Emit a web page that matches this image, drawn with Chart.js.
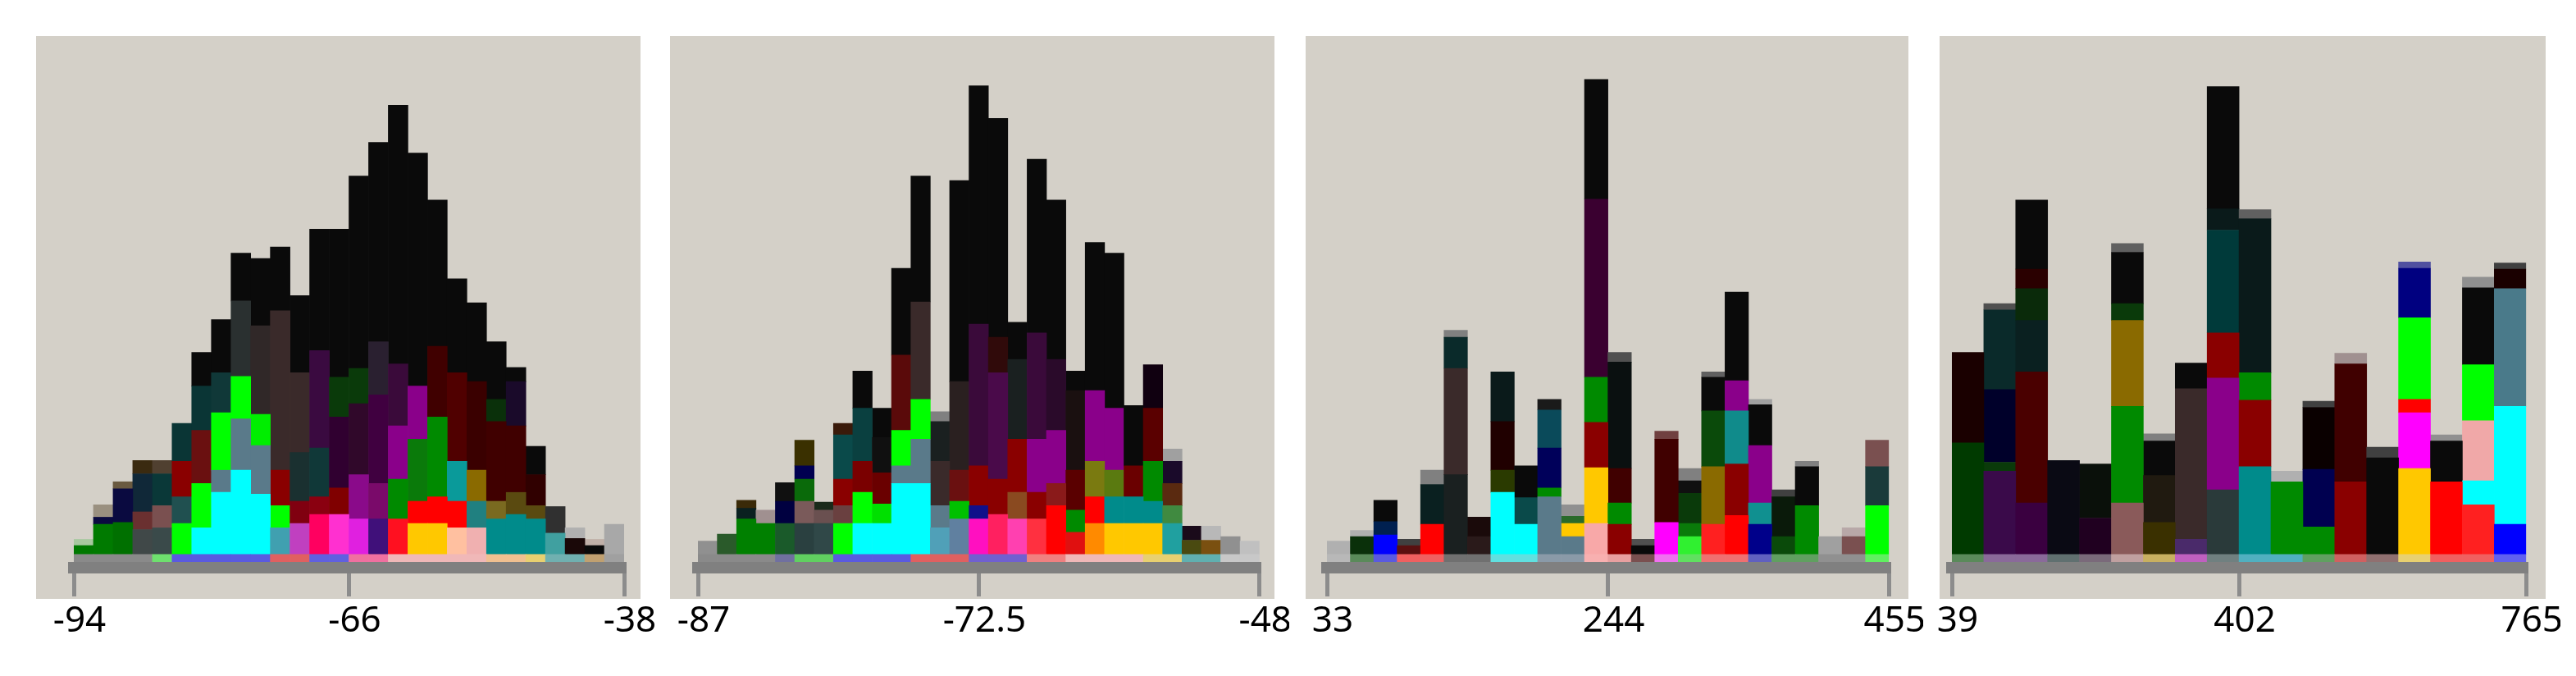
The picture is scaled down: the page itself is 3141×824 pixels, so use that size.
<!DOCTYPE html>
<html>
<head>
<meta charset="utf-8">
<script src="https://cdn.jsdelivr.net/npm/chart.js@4"></script>
<style>
  body { margin: 0; background: #fff; width: 3141px; height: 824px; position: relative; overflow: hidden; }
  .panel { position: absolute; top: 44px; height: 750px; }
  .panel .bg { position: absolute; left: 18px; top: 0; height: 686px; background: #d4d0c8; }
  .panel canvas { position: absolute; left: 0; top: 0; }
</style>
</head>
<body>

<div class="panel" id="p1" style="left:26px;width:773px"><div class="bg" style="width:737px"></div><canvas id="c1" width="773" height="750"></canvas></div>
<div class="panel" id="p2" style="left:799px;width:773px"><div class="bg" style="width:737px"></div><canvas id="c2" width="773" height="750"></canvas></div>
<div class="panel" id="p3" style="left:1574px;width:771px"><div class="bg" style="width:735px"></div><canvas id="c3" width="771" height="750"></canvas></div>
<div class="panel" id="p4" style="left:2347px;width:775px"><div class="bg" style="width:739px"></div><canvas id="c4" width="775" height="750"></canvas></div>

<script>
// tick labels under each panel (first, middle, last)
const p1Ticks = ['-94', '-66', '-38'];
const p2Ticks = ['-87', '-72.5', '-48'];
const p3Ticks = ['33', '244', '455'];
const p4Ticks = ['39', '402', '765'];

// each bin: stacked segment counts, bottom to top (first one is the thin strip on the axis)
const p1Segs = [
  [1.5, 1.0, 0.7],
  [1.5, 3.4, 0.8, 1.4],
  [1.5, 3.6, 3.8, 0.8],
  [1.5, 2.8, 2.0, 4.3, 1.5],
  [1.5, 3.0, 2.5, 3.6, 1.5],
  [1.5, 3.5, 3.0, 4.0, 4.3],
  [1.5, 3.0, 5.0, 6.0, 5.0, 3.8],
  [1.5, 7.0, 2.5, 6.5, 4.5, 6.0],
  [1.5, 9.5, 5.8, 4.8, 8.5, 5.4],
  [1.5, 6.8, 5.5, 3.5, 10, 7.6],
  [1.5, 3.0, 2.5, 4.0, 18, 7.2],
  [1.5, 3.5, 2.5, 5.5, 9, 8.7],
  [1.5, 4.5, 2.0, 5.5, 11, 13.7],
  [1.5, 4.5, 3.0, 8, 4.5, 16.7],
  [1.5, 4, 5, 8, 4, 21.7],
  [1.5, 4, 4, 10, 6, 22.5],
  [1.5, 4, 4.5, 6, 7, 29.2],
  [1.5, 3.5, 2.5, 7, 6, 26.3],
  [1.5, 3.5, 3, 9, 8, 16.5],
  [1.5, 3, 3, 4.5, 10, 10.6],
  [1.5, 3, 3, 3.5, 10, 8.9],
  [1.5, 4, 2, 9, 2.5, 6.5],
  [1.5, 4.5, 2.5, 7.5, 5, 1.6],
  [1.5, 4, 1.5, 3.5, 3.2],
  [1.5, 2.4, 3.0],
  [1.5, 1.8, 1.2],
  [1.5, 1.0, 0.7],
  [1.5, 3.4]
];
const p1Cols = [
  ['#8a8a8a', '#007800', '#a8c8a0'],
  ['#8a8a8a', '#007a00', '#0a0a40', '#9a9080'],
  ['#8a8a8a', '#007000', '#0a0a40', '#6a5a40'],
  ['#8a8a8a', '#404848', '#6a3030', '#102838', '#3a2a10'],
  ['#6ee06e', '#3a4a4a', '#7a5050', '#0a3838', '#504030'],
  ['#5a5ae0', '#00ff00', '#205050', '#8a0000', '#0a3535'],
  ['#5a5ae0', '#00ffff', '#00ff00', '#6a1010', '#0a3535', '#0a0a0a'],
  ['#5a5ae0', '#00ffff', '#5a7a8a', '#00ff00', '#103838', '#0a0a0a'],
  ['#5a5ae0', '#00ffff', '#5a7a8a', '#00ff00', '#2a3030', '#0a0a0a'],
  ['#5a5ae0', '#00ffff', '#5a7a8a', '#00ee00', '#302828', '#0a0a0a'],
  ['#e06060', '#40a0b0', '#00ff00', '#8a0000', '#3a2a2a', '#0a0a0a'],
  ['#e06060', '#c040c0', '#800010', '#1a3030', '#3a2a2a', '#0a0a0a'],
  ['#6060e0', '#ff0060', '#8a0010', '#103838', '#3a0a40', '#0a0a0a'],
  ['#6060e0', '#ff30d0', '#800000', '#300030', '#0a3a0a', '#0a0a0a'],
  ['#f070a0', '#e020e0', '#8a0a8a', '#30082a', '#0a3a0a', '#0a0a0a'],
  ['#f070a0', '#40107a', '#7a0a6a', '#400040', '#2a2030', '#0a0a0a'],
  ['#f0b8b8', '#ff1020', '#008a00', '#8a008a', '#3a0a3a', '#0a0a0a'],
  ['#f0b8b8', '#ffc800', '#ff0000', '#0a7a0a', '#8a008a', '#0a0a0a'],
  ['#f0b8b8', '#ffc800', '#ff0000', '#008a00', '#400000', '#0a0a0a'],
  ['#f0b8b8', '#ffc0a0', '#ff0000', '#0a9a9a', '#500000', '#0a0a0a'],
  ['#f0b8b8', '#f0b0b0', '#208080', '#8a6a00', '#3a0000', '#0a0a0a'],
  ['#f0c090', '#008b8b', '#7a6a20', '#400000', '#0a300a', '#0a0a0a'],
  ['#f0c090', '#008b8b', '#5a4a10', '#400000', '#1a0a2a', '#0a0a0a'],
  ['#e8d070', '#008b8b', '#5a4a10', '#300000', '#0a0a0a'],
  ['#70b0b0', '#40a0a0', '#303030'],
  ['#70b0b0', '#1a0808', '#b0b0b0'],
  ['#c0a070', '#0a0a0a', '#c0b0a8'],
  ['#a0a0a0', '#a8a8a8']
];

const p2Segs = [
  [1.5, 1.5],
  [1.5, 2.3],
  [1.5, 4.0, 1.2, 0.9],
  [1.5, 3.5, 1.5],
  [1.5, 3.5, 2.5, 2.1],
  [1.5, 3.5, 2.5, 2.5, 1.5, 2.9],
  [1.5, 3.5, 1.5, 0.9],
  [1.5, 3.5, 2.0, 3.0, 5.0, 1.3],
  [1.5, 3.5, 3.5, 3.5, 6.0, 4.2],
  [1.5, 3.5, 2.2, 3.5, 4.0, 3.3],
  [1.5, 8.0, 2.0, 4.0, 8.5, 9.8],
  [1.5, 8, 5, 4.5, 11, 14.2],
  [1.5, 3.0, 2.5, 5, 4.5, 1.1],
  [1.5, 4, 2, 3.5, 10, 22.7],
  [1.5, 4, 1.5, 4.5, 16, 26.9],
  [1.5, 4.5, 4, 12, 4, 24.7],
  [1.5, 4, 3, 6, 9, 4.2],
  [1.5, 4, 3, 6, 12, 19.6],
  [1.5, 5.5, 2.5, 6, 8, 18],
  [1.5, 2.5, 2.5, 4.5, 9, 2.2],
  [1.5, 3.5, 3, 4, 8, 16.7],
  [1.5, 3.5, 3, 3, 7, 17.5],
  [1.5, 3.5, 3, 3.5, 6.8],
  [1.5, 3.5, 2.5, 4.5, 6, 4.9],
  [1.5, 3.5, 2, 2.5, 2.5, 1.4],
  [1.5, 1.6, 1.6],
  [1.5, 1.6, 1.6],
  [1.5, 2.0],
  [1.5, 1.5]
];
const p2Cols = [
  ['#8a8a8a', '#909090'],
  ['#8a8a8a', '#2a5a2a'],
  ['#8a8a8a', '#008000', '#0a2020', '#3a2a08'],
  ['#8a8a8a', '#008000', '#a09090'],
  ['#7070a0', '#1a5a2a', '#000040', '#101010'],
  ['#60d060', '#2a4040', '#7a5a5a', '#0a6a0a', '#000050', '#3a3000'],
  ['#60d060', '#304848', '#6a5050', '#1a2a1a'],
  ['#5a5ae0', '#00ff00', '#6a4040', '#8a0000', '#0a4a4a', '#3a1a0a'],
  ['#5a5ae0', '#00ffff', '#00ff00', '#7a0000', '#0a4040', '#0a0a0a'],
  ['#5a5ae0', '#00ffff', '#00e000', '#6a0000', '#101010', '#0a0a0a'],
  ['#5a5ae0', '#00ffff', '#5a7a8a', '#00ff00', '#5a0a0a', '#0a0a0a'],
  ['#e06060', '#00ffff', '#5a7a8a', '#00ff00', '#3a2a2a', '#0a0a0a'],
  ['#e06060', '#50a0b8', '#5a7a8a', '#3a2a2a', '#1a2020', '#808080'],
  ['#e06060', '#6080a0', '#00c000', '#6a1010', '#2a2020', '#0a0a0a'],
  ['#7060d0', '#ff10c0', '#10108a', '#8a0000', '#3a0a3a', '#0a0a0a'],
  ['#7060d0', '#ff2060', '#8a0000', '#4a0a4a', '#300a0a', '#0a0a0a'],
  ['#7060d0', '#ff40b0', '#8a4a20', '#8a0000', '#1a2020', '#0a0a0a'],
  ['#f08080', '#ff3040', '#8a0000', '#8a008a', '#3a0a3a', '#0a0a0a'],
  ['#f08080', '#ff0000', '#8a1a1a', '#8a008a', '#2a0a2a', '#0a0a0a'],
  ['#f0b8b8', '#e01010', '#008a00', '#5a0000', '#1a1010', '#0a0a0a'],
  ['#f0b8b8', '#ff8a00', '#ff0000', '#7a7a10', '#8a008a', '#0a0a0a'],
  ['#f0b8b8', '#ffc800', '#008b8b', '#5a7a10', '#8a008a', '#0a0a0a'],
  ['#f0b8b8', '#ffc800', '#008b8b', '#6a0000', '#0a0a0a'],
  ['#e8d070', '#ffc800', '#008b8b', '#008a00', '#5a0000', '#100010'],
  ['#e8d070', '#20a0a0', '#408a40', '#5a2a10', '#1a0a2a', '#a0a0a0'],
  ['#60b0b0', '#4a4a10', '#1a0a1a'],
  ['#60b0b0', '#7a5010', '#b8b8b8'],
  ['#c8c8c8', '#909090'],
  ['#c8c8c8', '#c0c0c0']
];

const p3Segs = [
  [1.5, 1.5],
  [1.5, 2.0, 0.7],
  [1.5, 2.2, 1.5, 2.4],
  [1.5, 1.0, 0.7],
  [1.5, 3.4, 4.5, 1.6],
  [1.5, 9.0, 12.0, 3.5, 0.8],
  [1.5, 2.0, 2.2],
  [1.5, 7.0, 2.5, 5.5, 5.6],
  [1.5, 3.4, 3.0, 3.6],
  [1.5, 6.5, 1.0, 4.5, 4.3, 1.2],
  [1.5, 2.0, 1.5, 0.8, 1.3],
  [1.5, 3.5, 6.3, 5.1, 5.1, 20.1, 13.5],
  [1.5, 3.4, 2.4, 3.9, 12.0, 1.1],
  [1.5, 1.0, 0.7],
  [1.5, 3.6, 9.4, 0.9],
  [1.5, 2.0, 1.5, 3.4, 1.4, 1.4],
  [1.5, 3.4, 6.5, 6.3, 3.8, 0.6],
  [1.5, 4.4, 5.8, 6.0, 3.4, 10.0],
  [1.5, 3.4, 2.4, 6.5, 4.6, 0.6],
  [1.5, 2.0, 4.5, 0.8],
  [1.5, 5.5, 4.4, 0.6],
  [1.5, 2.0],
  [1.5, 2.0, 1.0],
  [1.5, 5.5, 4.4, 3.0]
];
const p3Cols = [
  ['#b8b8b8', '#b0b0b0'],
  ['#5a8a5a', '#0a300a', '#b0b0b0'],
  ['#5a5ae0', '#0000ff', '#002050', '#0a0a0a'],
  ['#f06060', '#5a1010', '#404040'],
  ['#f06060', '#ff0000', '#0a2020', '#808080'],
  ['#707070', '#1a2020', '#3a2a2a', '#0a2a2a', '#808080'],
  ['#707070', '#2a1a1a', '#1a0a0a'],
  ['#60e0e0', '#00ffff', '#2a3a00', '#200000', '#0a1a1a'],
  ['#60e0e0', '#00ffff', '#0a4a4a', '#0a0a0a'],
  ['#8a9aa8', '#5a7a8a', '#008a00', '#00005a', '#0a4a5a', '#1a1a1a'],
  ['#8a9aa8', '#5a7a8a', '#ffc800', '#2a6a2a', '#909090'],
  ['#f8b0b0', '#f8a8a8', '#ffc800', '#8a0000', '#008a00', '#3a0030', '#0a0a0a'],
  ['#e8a0a0', '#8a0000', '#008a00', '#400000', '#0a1010', '#505050'],
  ['#7a5050', '#0a0a0a', '#505050'],
  ['#f070f0', '#ff00ff', '#400000', '#704040'],
  ['#60e060', '#30f030', '#0a7a0a', '#0a3a0a', '#101010', '#808080'],
  ['#f07070', '#ff2020', '#8a6a00', '#0a4a0a', '#0a0a0a', '#606060'],
  ['#f07070', '#ff0000', '#8a0000', '#108b8b', '#8a008a', '#0a0a0a'],
  ['#6060c0', '#00008a', '#109090', '#8a008a', '#0a0a0a', '#a0a0a0'],
  ['#60a060', '#0a4a0a', '#0a1a0a', '#404040'],
  ['#60a060', '#008a00', '#0a0a0a', '#808080'],
  ['#909090', '#a0a0a0'],
  ['#909090', '#7a5050', '#b8a8a8'],
  ['#60f060', '#00ff00', '#1a3a3a', '#7a5050']
];

const p4Segs = [
  [1.5, 12.6, 10.2],
  [1.5, 9.4, 1.0, 8.2, 9.0, 0.7],
  [1.5, 5.8, 14.8, 5.8, 3.6, 2.2, 7.8],
  [1.5, 10.6],
  [1.5, 4.1, 6.1],
  [1.5, 5.8, 10.9, 9.7, 1.9, 5.8, 1.0],
  [1.5, 3.6, 5.3, 3.9, 0.8],
  [1.5, 1.7, 17.0, 2.9],
  [1.5, 7.3, 12.6, 5.1, 11.6, 2.4, 13.8],
  [1.5, 9.9, 7.5, 3.1, 17.4, 1.0],
  [1.5, 8.2, 1.2],
  [1.5, 3.1, 6.5, 7.0, 0.7],
  [1.5, 8.2, 13.3, 1.2],
  [1.5, 10.9, 1.2],
  [1.5, 9.7, 6.3, 1.5, 9.2, 5.6, 0.7],
  [1.5, 8.2, 4.6, 0.7],
  [1.5, 5.6, 2.7, 6.8, 6.3, 8.7, 1.2],
  [1.5, 3.4, 13.3, 13.3, 2.2, 0.7]
];
const p4Cols = [
  ['#5a8a5a', '#003a00', '#1a0000'],
  ['#8a6a9a', '#3a0a4a', '#0a3a0a', '#00002a', '#0a2a2a', '#505050'],
  ['#8a6a9a', '#3a0040', '#4a0000', '#0a2020', '#0a2a0a', '#2a0000', '#0a0a0a'],
  ['#607070', '#0a0a14'],
  ['#7a6a7a', '#200020', '#0a100a'],
  ['#c0a0a0', '#8a5a5a', '#008a00', '#8a6a00', '#0a3a0a', '#0a0a0a', '#606060'],
  ['#c8b060', '#3a3000', '#201a10', '#0a0a0a', '#808080'],
  ['#c060c0', '#4a2a6a', '#3a2a2a', '#0a0a0a'],
  ['#708080', '#2a3a3a', '#8a008a', '#8a0000', '#003a3a', '#0a1a1a', '#0a0a0a'],
  ['#50b0c0', '#008b8b', '#8a0000', '#008a00', '#0a1a1a', '#606060'],
  ['#50b0c0', '#008a00', '#b0b0b0'],
  ['#60a060', '#008a00', '#000050', '#0a0000', '#404040'],
  ['#d06060', '#8a0000', '#400000', '#a09090'],
  ['#907070', '#0a0a0a', '#404040'],
  ['#e8d070', '#ffc800', '#ff00ff', '#ff0000', '#00ff00', '#000080', '#5050a0'],
  ['#f06060', '#ff0000', '#0a0a0a', '#909090'],
  ['#f06060', '#ff2020', '#00ffff', '#f0a8a8', '#00ff00', '#0a0a0a', '#909090'],
  ['#6060f0', '#0000ff', '#00ffff', '#4a7a8a', '#1a0000', '#404040']
];

/**
 * One stacked histogram panel. Segment k of every bin goes into dataset k.
 */
function drawPanel(canvasId, segs, cols, tickLabels, padLeft, padRight) {
  let nLayers = Math.max(...segs.map(s => s.length));
  let datasets = [];
  for (let k = 0; k < nLayers; k++) {
    datasets.push({
      data: segs.map(s => s[k] || 0),
      backgroundColor: cols.map(c => c[k] || 'rgba(0,0,0,0)'),
      borderWidth: 0,
      barPercentage: 1,
      categoryPercentage: 1
    });
  }

  new Chart(document.getElementById(canvasId), {
    type: 'bar',
    data: {
      labels: segs.map((s, i) => String(i)),
      datasets: datasets
    },
    options: {
      responsive: false,
      animation: false,
      devicePixelRatio: 1,
      layout: { padding: { left: padLeft, right: padRight, top: 0, bottom: 0 } },
      plugins: { legend: { display: false }, tooltip: { enabled: false } },
      scales: {
        x: { type: 'category', display: false, stacked: true, offset: true },
        y: { display: false, stacked: true, min: 0, max: 60 },
        // visible axis: thick gray bar, three ticks at both ends and the middle
        xTicks: {
          type: 'linear',
          axis: 'x',
          position: 'bottom',
          offset: false,
          min: 0,
          max: 2,
          afterBuildTicks: function(scale) {
            scale.ticks = [{ value: 0 }, { value: 1 }, { value: 2 }];
          },
          afterFit: function(scale) {
            scale.height = 102;
          },
          ticks: {
            z: 1,
            autoSkip: false,
            maxRotation: 0,
            minRotation: 0,
            padding: 4,
            labelOffset: 7,
            color: '#000',
            font: { family: 'Noto Sans', size: 44 },
            callback: function(value, index) {
              return tickLabels[index];
            }
          },
          grid: {
            z: 1,
            offset: false,
            drawOnChartArea: false,
            drawTicks: true,
            tickLength: 35,
            color: '#8c8c8c',
            lineWidth: 5
          },
          border: { z: 1, display: true, color: '#808080', width: 14 }
        }
      }
    }
  });
}

drawPanel('c1', p1Segs, p1Cols, p1Ticks, 64, 38);
drawPanel('c2', p2Segs, p2Cols, p2Ticks, 52, 30);
drawPanel('c3', p3Segs, p3Cols, p3Ticks, 44, 28);
drawPanel('c4', p4Segs, p4Cols, p4Ticks, 33, 27);
</script>
</body>
</html>
